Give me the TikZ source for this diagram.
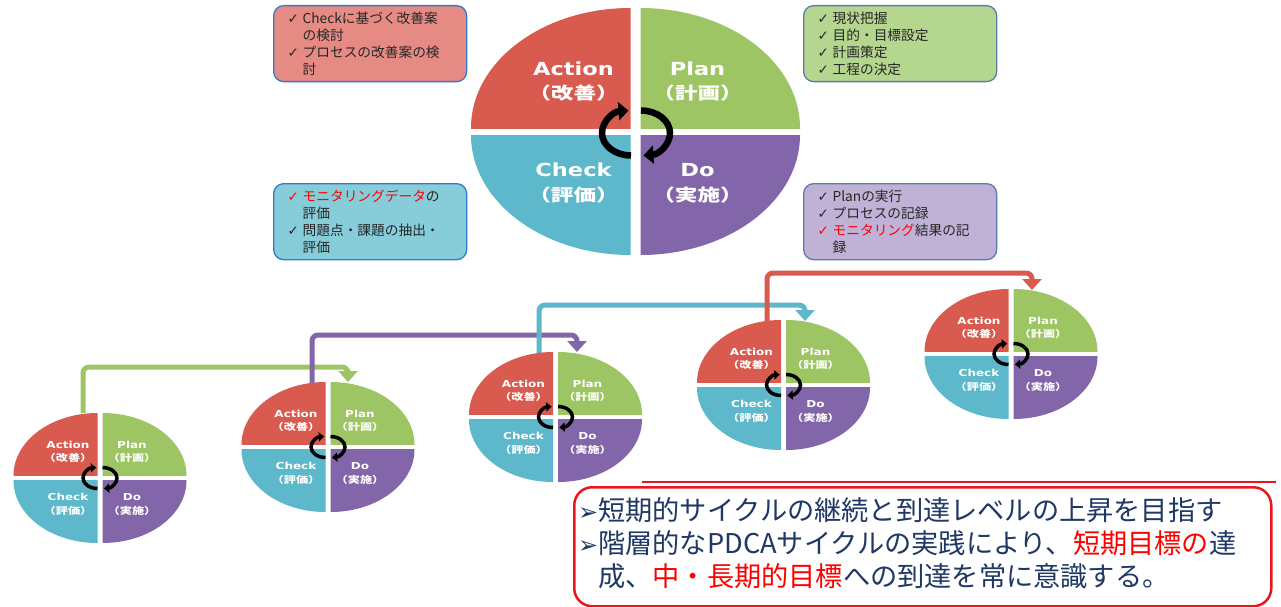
\documentclass[tikz,border=0pt]{standalone}
\usepackage{fontspec}
\setmainfont{Noto Sans CJK JP}
\newfontfamily\dvs{DejaVu Sans}
\usetikzlibrary{arrows.meta}
\definecolor{cA}{HTML}{D95A4E}
\definecolor{cP}{HTML}{9DC563}
\definecolor{cC}{HTML}{5CB8CA}
\definecolor{cD}{HTML}{8366AA}
\definecolor{bA}{HTML}{E68B84}
\definecolor{bP}{HTML}{B5D68F}
\definecolor{bC}{HTML}{86CCD9}
\definecolor{bD}{HTML}{BFB2D6}
\definecolor{edgeB}{HTML}{2E7BCF}
\definecolor{edgeS}{HTML}{5A7CA8}
\definecolor{navy}{HTML}{1F3864}
\definecolor{txt}{HTML}{262626}
\definecolor{cR}{HTML}{FF0000}
\definecolor{boxred}{HTML}{E8161E}
\newcommand\ck{\makebox[15pt][l]{\dvs\fontsize{13.5}{13.5}\selectfont ✓}}
\newcommand\ckind{\hspace*{15pt}}
% quadrants: cx cy rx ry gx gy
\newcommand\pdcaquads[6]{%
  \begin{scope}\clip ({#1-#5},{#2-#6}) rectangle ({#1-#5-#3-3},{#2-#6-#4-3});
    \fill[cA] ({#1-#5},{#2-#6}) ellipse [x radius=#3pt, y radius=#4pt];\end{scope}
  \begin{scope}\clip ({#1+#5},{#2-#6}) rectangle ({#1+#5+#3+3},{#2-#6-#4-3});
    \fill[cP] ({#1+#5},{#2-#6}) ellipse [x radius=#3pt, y radius=#4pt];\end{scope}
  \begin{scope}\clip ({#1-#5},{#2+#6}) rectangle ({#1-#5-#3-3},{#2+#6+#4+3});
    \fill[cC] ({#1-#5},{#2+#6}) ellipse [x radius=#3pt, y radius=#4pt];\end{scope}
  \begin{scope}\clip ({#1+#5},{#2+#6}) rectangle ({#1+#5+#3+3},{#2+#6+#4+3});
    \fill[cD] ({#1+#5},{#2+#6}) ellipse [x radius=#3pt, y radius=#4pt];\end{scope}
}
% ring: cx cy offset rx ry linewidth tipwidth tiplength
\newcommand\pdcaring[8]{%
  \draw[black, line width=#6pt, -{Triangle[width=#7pt,length=#8pt]}]
    ({#1-#3},{#2+#5}) arc[start angle=270, end angle=95, x radius=#4pt, y radius=#5pt];
  \draw[black, line width=#6pt, -{Triangle[width=#7pt,length=#8pt]}]
    ({#1+#3},{#2-#5}) arc[start angle=90, end angle=-85, x radius=#4pt, y radius=#5pt];
}
% small cycle: name cx cy
\newcommand\pdcasmall[3]{%
  \pdcaquads{#2}{#3}{84}{62.5}{2.5}{2.5}
  \pdcaring{#2}{#3}{2.5}{14.5}{10.5}{3.5}{9}{5.5}
  \node[slat] (#1act) at ({#2-32},{#3-33}) {Action};
  \node[sjp]  (#1actj) at ({#2-32},{#3-20}) {（改善）};
  \node[slat] (#1pln) at ({#2+32},{#3-33}) {Plan};
  \node[sjp]  (#1plnj) at ({#2+32},{#3-20}) {（計画）};
  \node[slat] (#1chk) at ({#2-32},{#3+19}) {Check};
  \node[sjp]  (#1chkj) at ({#2-32},{#3+33}) {（評価）};
  \node[slat] (#1do) at ({#2+32},{#3+19}) {Do};
  \node[sjp]  (#1doj) at ({#2+32},{#3+33}) {（実施）};
}
\begin{document}
\begin{tikzpicture}[x=1pt,y=-1pt,
  infobox/.style={rounded corners=10pt, line width=1.3pt, minimum width=193pt,
    minimum height=76pt, text width=165pt, align=left, inner xsep=14pt, inner ysep=0pt,
    font=\fontsize{13.7}{16.8}\selectfont, text=txt, anchor=north west},
  blat/.style={text=white, inner sep=0pt, xscale=1.25, font=\dvs\bfseries\fontsize{18}{20}\selectfont},
  bjp/.style={text=white, inner sep=0pt, xscale=1.33, font=\bfseries\fontsize{17}{20}\selectfont},
  slat/.style={text=white, inner sep=0pt, xscale=1.25, font=\dvs\bfseries\fontsize{9.6}{11}\selectfont},
  sjp/.style={text=white, inner sep=0pt, xscale=1.28, font=\bfseries\fontsize{9.5}{11}\selectfont},
  conn/.style={line width=5pt, rounded corners=6pt, -{Triangle[width=19pt,length=11pt]}}]
\useasboundingbox (0,0) rectangle (1281,607);
\fill[white] (0,0) rectangle (1281,607);

% big PDCA
\pdcaquads{635.5}{131.5}{159.5}{120}{5}{3.5}
\pdcaring{636}{133}{5}{29}{22.5}{6.5}{18}{10}
\node[blat] (bact) at (573.5,68.5) {Action};
\node[bjp]  (bactj) at (573.5,93.5) {（改善）};
\node[blat] (bpln) at (697.5,68.5) {Plan};
\node[bjp]  (bplnj) at (697.5,93.5) {（計画）};
\node[blat] (bchk) at (573.5,170) {Check};
\node[bjp]  (bchkj) at (573.5,195) {（評価）};
\node[blat] (bdo) at (697.5,170) {Do};
\node[bjp]  (bdoj) at (697.5,195) {（実施）};

% info boxes
\node[infobox, fill=bA, draw=edgeB] (boxA) at (273,5)
  {\ck Checkに基づく改善案\\\ckind の検討\\\ck プロセスの改善案の検\\\ckind 討};
\node[infobox, fill=bP, draw=edgeS] (boxP) at (803,5)
  {\ck 現状把握\\\ck 目的・目標設定\\\ck 計画策定\\\ck 工程の決定};
\node[infobox, fill=bC, draw=edgeB] (boxC) at (273,183)
  {\textcolor{cR}{\ck モニタリングデータ}の\\\ckind 評価\\\ck 問題点・課題の抽出・\\\ckind 評価};
\node[infobox, fill=bD, draw=edgeS] (boxD) at (803,183)
  {\ck Planの実行\\\ck プロセスの記録\\\textcolor{cR}{\ck モニタリング}結果の記\\\ckind 録};

% connectors between small cycles
\coordinate (o1) at (83,413);
\coordinate (i2) at (348,382);
\coordinate (o2) at (312,383);
\coordinate (i3) at (577,352);
\coordinate (o3) at (539,353);
\coordinate (i4) at (805,321);
\coordinate (o4) at (767,321);
\coordinate (i5) at (1032,290);
\draw[conn, cP] (o1) |- ([yshift=15pt]i2) -- (i2);
\draw[conn, cD] (o2) |- ([yshift=17pt]i3) -- (i3);
\draw[conn, cC] (o3) |- ([yshift=16pt]i4) -- (i4);
\draw[conn, cA] (o4) |- ([yshift=17pt]i5) -- (i5);

% small cycles
\pdcasmall{s1}{100}{478}
\pdcasmall{s2}{328}{447}
\pdcasmall{s3}{555.5}{417}
\pdcasmall{s4}{783.5}{385}
\pdcasmall{s5}{1011}{354}

% goal box
\draw[boxred, line width=1.5pt] (642,482) -- (1276,482);
\node[draw=boxred, fill=white, line width=2.5pt, rounded corners=18pt, minimum width=697pt,
  minimum height=119pt, anchor=north west, inner sep=0pt] (goalbox) at (573,486) {};
\node[anchor=west, text=navy, align=left, inner sep=0pt,
  font=\fontsize{27.2}{33}\selectfont] (goaltxt) at (578,543)
  {{\dvs\fontsize{24}{24}\selectfont ➢}短期的サイクルの継続と到達レベルの上昇を目指す\\
   {\dvs\fontsize{24}{24}\selectfont ➢}階層的なPDCAサイクルの実践により、\textcolor{cR}{短期目標の}達\\
   {\dvs\fontsize{24}{24}\selectfont \hphantom{➢}}成、\textcolor{cR}{中・長期的目標}への到達を常に意識する。};
\end{tikzpicture}
\end{document}
